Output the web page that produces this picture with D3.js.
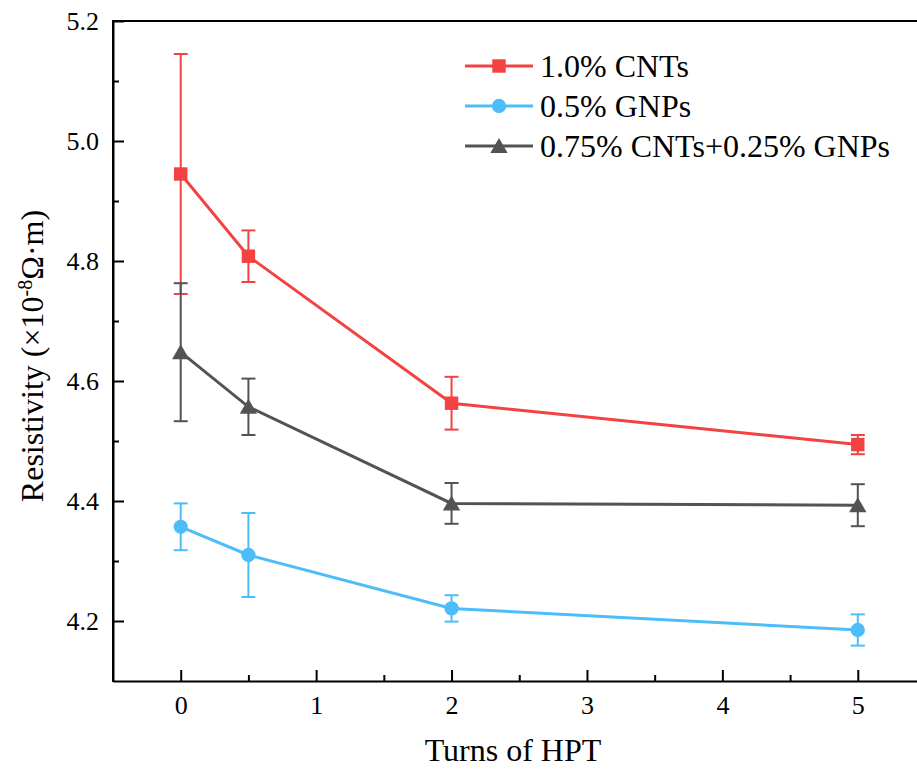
<!DOCTYPE html>
<html>
<head>
<meta charset="utf-8">
<script src="https://cdn.jsdelivr.net/npm/d3@7"></script>
<style>
  html, body { margin: 0; padding: 0; background: #fff; }
  svg { display: block; }
  svg text { font-family: 'Liberation Serif', 'Times New Roman', serif; }
</style>
</head>
<body>
<svg id="chart" width="917" height="769"></svg>
<script>
// ---- Data ----
const turns = [0, 0.5, 2, 5];
const seriesNames = ["1.0% CNTs", "0.5% GNPs", "0.75% CNTs+0.25% GNPs"];
const cntValues = [4.945, 4.808, 4.563, 4.494];
const cntErrors = [0.200, 0.043, 0.044, 0.016];
const gnpValues = [4.357, 4.310, 4.221, 4.185];
const gnpErrors = [0.039, 0.070, 0.022, 0.026];
const hybValues = [4.648, 4.557, 4.396, 4.393];
const hybErrors = [0.115, 0.047, 0.034, 0.035];
const xMajorTicks = [0, 1, 2, 3, 4, 5];
const xMinorTicks = [0.5, 1.5, 2.5, 3.5, 4.5];
const yMajorTicks = [4.2, 4.4, 4.6, 4.8, 5.0, 5.2];
const yMinorTicks = [4.3, 4.5, 4.7, 4.9, 5.1];

const seriesColors = ["#F44141", "#4CBDF8", "#535353"];
const seriesShapes = [d3.symbolSquare, d3.symbolCircle, d3.symbolTriangle];
const series = [
  { name: seriesNames[0], values: cntValues, errors: cntErrors, color: seriesColors[0], shape: seriesShapes[0], size: 180 },
  { name: seriesNames[1], values: gnpValues, errors: gnpErrors, color: seriesColors[1], shape: seriesShapes[1], size: 160 },
  { name: seriesNames[2], values: hybValues, errors: hybErrors, color: seriesColors[2], shape: seriesShapes[2], size: 130 }
];

// ---- Layout ----
const svg = d3.select("#chart");
const pL = 113, pR = 925.5, pT = 21, pB = 681;
const x = d3.scaleLinear().domain([-0.5, 5.5]).range([pL, pR]);
const y = d3.scaleLinear().domain([4.1, 5.2]).range([pB, pT]);
const font = "'Liberation Serif', 'Times New Roman', serif";

// Axes (inward ticks)
svg.append("g").attr("transform", `translate(0,${pB})`)
  .call(d3.axisBottom(x).tickValues(xMajorTicks).tickSize(-11).tickSizeOuter(0).tickPadding(15).tickFormat(d3.format("d")));
svg.append("g").attr("transform", `translate(0,${pB})`)
  .call(d3.axisBottom(x).tickValues(xMinorTicks).tickSize(-6).tickSizeOuter(0).tickFormat(""))
  .select(".domain").remove();
svg.append("g").attr("transform", `translate(${pL},0)`)
  .call(d3.axisLeft(y).tickValues(yMajorTicks).tickSize(-11).tickSizeOuter(0).tickPadding(14).tickFormat(d3.format(".1f")));
svg.append("g").attr("transform", `translate(${pL},0)`)
  .call(d3.axisLeft(y).tickValues(yMinorTicks).tickSize(-6).tickSizeOuter(0).tickFormat(""))
  .select(".domain").remove();

svg.selectAll("g").attr("font-family", font);
svg.selectAll(".domain").attr("stroke", "#000").attr("stroke-width", 2);
svg.selectAll(".tick line").attr("stroke", "#000").attr("stroke-width", 2);
svg.selectAll(".tick text").attr("font-family", font).attr("font-size", 26).attr("fill", "#000");

// top line and left corner
svg.append("line").attr("x1", pL).attr("x2", 917).attr("y1", pT).attr("y2", pT)
  .attr("stroke", "#000").attr("stroke-width", 2);
svg.append("line").attr("x1", pL).attr("x2", pL).attr("y1", pT - 1).attr("y2", pB + 1)
  .attr("stroke", "#000").attr("stroke-width", 2);

// Axis titles
svg.append("text").attr("x", (pL + 917) / 2 - 2).attr("y", 761)
  .attr("text-anchor", "middle").attr("font-family", font).attr("font-size", 32)
  .text("Turns of HPT");
const yt = svg.append("text").attr("transform", "translate(43,356) rotate(-90)")
  .attr("text-anchor", "middle").attr("font-family", font).attr("font-size", 32);
yt.append("tspan").text("Resistivity (×10");
yt.append("tspan").attr("font-size", 20).attr("dy", -11).text("-8");
yt.append("tspan").attr("dy", 11).text("Ω·m)");

// Series
const line = d3.line().x((d, i) => x(turns[i])).y(d => y(d));
series.forEach(s => {
  const g = svg.append("g");
  turns.forEach((t, i) => {
    const cx = x(t), y1 = y(s.values[i] + s.errors[i]), y2 = y(s.values[i] - s.errors[i]);
    g.append("line").attr("x1", cx).attr("x2", cx).attr("y1", y1).attr("y2", y2)
      .attr("stroke", s.color).attr("stroke-width", 2);
    [y1, y2].forEach(yy => g.append("line").attr("x1", cx - 7).attr("x2", cx + 7).attr("y1", yy).attr("y2", yy)
      .attr("stroke", s.color).attr("stroke-width", 2));
  });
});
series.forEach(s => {
  const g = svg.append("g");
  g.append("path").datum(s.values).attr("d", line).attr("fill", "none")
    .attr("stroke", s.color).attr("stroke-width", 3);
  g.selectAll("path.m").data(s.values).enter().append("path").attr("class", "m")
    .attr("transform", (d, i) => `translate(${x(turns[i])},${y(d) + (s.shape === d3.symbolTriangle ? 2 : 0)})`)
    .attr("d", d3.symbol().type(s.shape).size(s.size)).attr("fill", s.color);
});

// Legend
const legY = [66, 106, 146];
series.forEach((s, i) => {
  const g = svg.append("g").attr("transform", `translate(0,${legY[i]})`);
  g.append("line").attr("x1", 465).attr("x2", 533).attr("y1", 0).attr("y2", 0)
    .attr("stroke", s.color).attr("stroke-width", 3);
  g.append("path").attr("transform", `translate(499,${s.shape === d3.symbolTriangle ? 2 : 0})`)
    .attr("d", d3.symbol().type(s.shape).size(s.size)).attr("fill", s.color);
  g.append("text").attr("x", 540).attr("y", 11).attr("font-family", font).attr("font-size", 32)
    .text(s.name);
});
</script>
</body>
</html>
